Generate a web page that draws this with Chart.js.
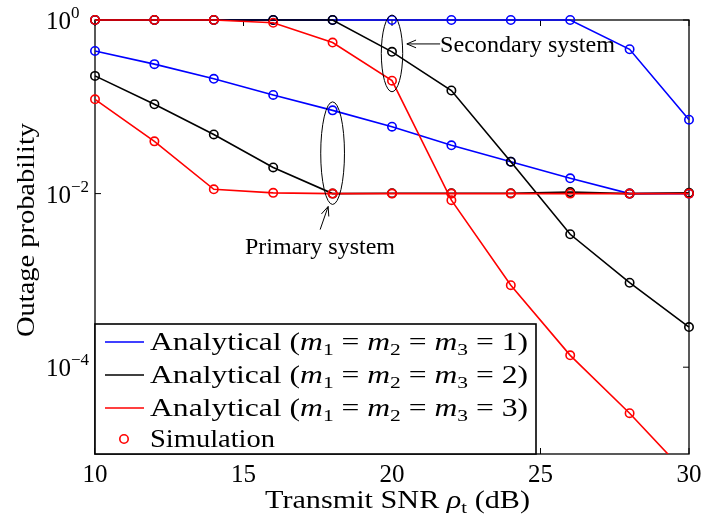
<!DOCTYPE html>
<html>
<head>
<meta charset="utf-8">
<script src="https://cdn.jsdelivr.net/npm/chart.js@4.4.0/dist/chart.umd.min.js"></script>
<style>
  body { margin: 0; background: #fff; }
</style>
</head>
<body>
<canvas id="myChart" width="704" height="518"></canvas>
<script>
// transmit SNR (dB)
const snr = [10, 12, 14, 16, 18, 20, 22, 24, 26, 28, 30];

// outage probability
const secM1 = [1, 1, 1, 1, 1, 1, 1, 1, 1, 0.46, 0.071];
const priM1 = [0.44, 0.31, 0.21, 0.137, 0.091, 0.059, 0.036, 0.0233, 0.015, 0.01, 0.01];
const secM2 = [1, 1, 1, 1, 1, 0.43, 0.154, 0.0233, 0.0034, 0.00094, 0.00029];
const priM2 = [0.227, 0.107, 0.048, 0.02, 0.01, 0.0101, 0.0101, 0.0101, 0.0104, 0.01, 0.0102];
const secM3 = [1, 1, 1, 0.93, 0.55, 0.2, 0.0084, 0.00088, 0.000137, 0.0000295, 0.0000055];
const priM3 = [0.122, 0.04, 0.0112, 0.0102, 0.01, 0.01, 0.01, 0.01, 0.01, 0.01, 0.01];

const xTicks = [10, 15, 20, 25, 30];
const yTicks = [1, 0.01, 0.0001];
const yTickExp = ['0', '\u22122', '\u22124'];

const legendLabels = ['1', '2', '3'];

const BLUE = '#0000ff';
const BLACK = '#000000';
const RED = '#ff0000';

const SERIF = '"Liberation Serif", "Times New Roman", serif';

function pts(ys) {
	return snr.map((v, i) => ({ x: v, y: ys[i] }));
}

function line(ys, color, order) {
	return {
		data: pts(ys),
		borderColor: color,
		backgroundColor: 'rgba(0,0,0,0)',
		borderWidth: 1.6,
		pointRadius: 4.2,
		pointBorderWidth: 1.6,
		pointStyle: 'circle',
		tension: 0,
		order: order,
		clip: { left: 10, top: 10, right: 10, bottom: 0 }
	};
}

// draws a row of text runs, stretched to a given width if asked
function drawRuns(ctx, runs, x, y, width) {
	let natural = 0;
	runs.forEach(r => {
		ctx.font = r[1];
		natural += ctx.measureText(r[0]).width;
	});
	const sx = width ? width / natural : 1;
	ctx.save();
	ctx.translate(x, y);
	ctx.scale(sx, 1);
	let cx = 0;
	runs.forEach(r => {
		ctx.font = r[1];
		ctx.fillText(r[0], cx, r[2] || 0);
		cx += ctx.measureText(r[0]).width;
	});
	ctx.restore();
}

function arrow(ctx, x1, y1, x2, y2) {
	const ang = Math.atan2(y2 - y1, x2 - x1);
	ctx.beginPath();
	ctx.moveTo(x1, y1);
	ctx.lineTo(x2, y2);
	ctx.moveTo(x2 - 10 * Math.cos(ang - 0.4), y2 - 10 * Math.sin(ang - 0.4));
	ctx.lineTo(x2, y2);
	ctx.lineTo(x2 - 10 * Math.cos(ang + 0.4), y2 - 10 * Math.sin(ang + 0.4));
	ctx.stroke();
}

const frame = {
	id: 'frame',
	beforeDatasetsDraw(chart) {
		const { ctx, chartArea: a, scales: { x, y } } = chart;
		ctx.save();
		ctx.strokeStyle = '#000';
		ctx.lineWidth = 1.3;
		ctx.strokeRect(a.left, a.top, a.right - a.left, a.bottom - a.top);

		ctx.lineWidth = 1;
		xTicks.forEach(v => {
			const px = x.getPixelForValue(v);
			ctx.beginPath();
			ctx.moveTo(px, a.bottom); ctx.lineTo(px, a.bottom - 6);
			ctx.moveTo(px, a.top); ctx.lineTo(px, a.top + 6);
			ctx.stroke();
		});
		yTicks.forEach(v => {
			const py = y.getPixelForValue(v);
			ctx.beginPath();
			ctx.moveTo(a.left, py); ctx.lineTo(a.left + 6, py);
			ctx.moveTo(a.right, py); ctx.lineTo(a.right - 6, py);
			ctx.stroke();
		});

		// tick labels
		ctx.fillStyle = '#000';
		ctx.textBaseline = 'alphabetic';
		ctx.textAlign = 'center';
		ctx.font = '25px ' + SERIF;
		xTicks.forEach(v => {
			ctx.fillText(String(v), x.getPixelForValue(v), a.bottom + 28);
		});
		ctx.textAlign = 'left';
		yTicks.forEach((v, i) => {
			const py = y.getPixelForValue(v);
			drawRuns(ctx, [['10', '25px ' + SERIF], [yTickExp[i], '17px ' + SERIF, -11]], 46, py + 9);
		});

		// axis titles
		ctx.textAlign = 'left';
		drawRuns(ctx, [
			['Transmit SNR ', '25px ' + SERIF],
			['\u03c1', 'italic 25px ' + SERIF],
			['t', '17px ' + SERIF, 5],
			[' (dB)', '25px ' + SERIF]
		], 265, 508, 265);

		ctx.save();
		ctx.translate(34, 337);
		ctx.rotate(-Math.PI / 2);
		drawRuns(ctx, [['Outage probability', '25px ' + SERIF]], 0, 0, 214);
		ctx.restore();
		ctx.restore();
	},
	afterDraw(chart) {
		const { ctx, scales: { x, y } } = chart;
		ctx.save();
		ctx.strokeStyle = '#000';
		ctx.fillStyle = '#000';
		ctx.lineWidth = 1;

		// ellipse round the primary curves at 18 dB
		let cx = x.getPixelForValue(18);
		let top = y.getPixelForValue(0.114), bot = y.getPixelForValue(0.0075);
		let rx = x.getPixelForValue(18.4) - cx;
		ctx.beginPath();
		ctx.ellipse(cx, (top + bot) / 2, rx, (bot - top) / 2, 0, 0, Math.PI * 2);
		ctx.stroke();

		// ellipse round the secondary curves at 20 dB
		cx = x.getPixelForValue(20);
		top = y.getPixelForValue(1.14); bot = y.getPixelForValue(0.149);
		rx = x.getPixelForValue(20.36) - cx;
		ctx.beginPath();
		ctx.ellipse(cx, (top + bot) / 2, rx, (bot - top) / 2, 0, 0, Math.PI * 2);
		ctx.stroke();

		arrow(ctx, x.getPixelForValue(17.58), y.getPixelForValue(0.00385),
			x.getPixelForValue(17.85), y.getPixelForValue(0.0071));
		arrow(ctx, x.getPixelForValue(21.62), y.getPixelForValue(0.53),
			x.getPixelForValue(20.5), y.getPixelForValue(0.53));

		ctx.textAlign = 'left';
		ctx.textBaseline = 'alphabetic';
		drawRuns(ctx, [['Primary system', '23px ' + SERIF]], 245, 254, 150);
		drawRuns(ctx, [['Secondary system', '23px ' + SERIF]], 440, 52, 175);

		// legend
		const lx = 95, ly = 324, lw = 441, lh = 130;
		ctx.fillStyle = '#fff';
		ctx.fillRect(lx, ly, lw, lh);
		ctx.lineWidth = 1.6;
		ctx.strokeRect(lx, ly, lw, lh);

		const colors = [BLUE, BLACK, RED];
		const rows = [342, 375, 408];
		rows.forEach((ry, i) => {
			ctx.strokeStyle = colors[i];
			ctx.lineWidth = 1.6;
			ctx.beginPath();
			ctx.moveTo(105, ry); ctx.lineTo(144, ry);
			ctx.stroke();
			ctx.fillStyle = '#000';
			drawRuns(ctx, [
				['Analytical (', '25px ' + SERIF],
				['m', 'italic 25px ' + SERIF], ['1', '17px ' + SERIF, 5], [' = ', '25px ' + SERIF],
				['m', 'italic 25px ' + SERIF], ['2', '17px ' + SERIF, 5], [' = ', '25px ' + SERIF],
				['m', 'italic 25px ' + SERIF], ['3', '17px ' + SERIF, 5],
				[' = ' + legendLabels[i] + ')', '25px ' + SERIF]
			], 150, ry + 8, 378);
		});
		ctx.strokeStyle = RED;
		ctx.lineWidth = 1.6;
		ctx.beginPath();
		ctx.arc(124, 439, 4.2, 0, Math.PI * 2);
		ctx.stroke();
		ctx.fillStyle = '#000';
		drawRuns(ctx, [['Simulation', '25px ' + SERIF]], 150, 447, 125);
		ctx.restore();
	}
};

const ctx = document.getElementById('myChart');
const myChart = new Chart(ctx, {
	type: 'line',
	data: {
		datasets: [
			line(secM3, RED, 0),
			line(priM3, RED, 1),
			line(secM2, BLACK, 2),
			line(priM2, BLACK, 3),
			line(secM1, BLUE, 4),
			line(priM1, BLUE, 5)
		]
	},
	options: {
		responsive: false,
		animation: false,
		devicePixelRatio: 1,
		layout: { padding: { left: 0, top: 20, right: 15, bottom: 0 } },
		plugins: {
			legend: { display: false },
			tooltip: { enabled: false }
		},
		scales: {
			x: {
				type: 'linear',
				min: 10,
				max: 30,
				ticks: { display: false },
				grid: { display: false },
				border: { display: false },
				afterFit(s) { s.height = 64; }
			},
			y: {
				type: 'logarithmic',
				min: 0.00001,
				max: 1,
				ticks: { display: false },
				grid: { display: false },
				border: { display: false },
				afterFit(s) { s.width = 95; }
			}
		}
	},
	plugins: [frame]
});
</script>
</body>
</html>
